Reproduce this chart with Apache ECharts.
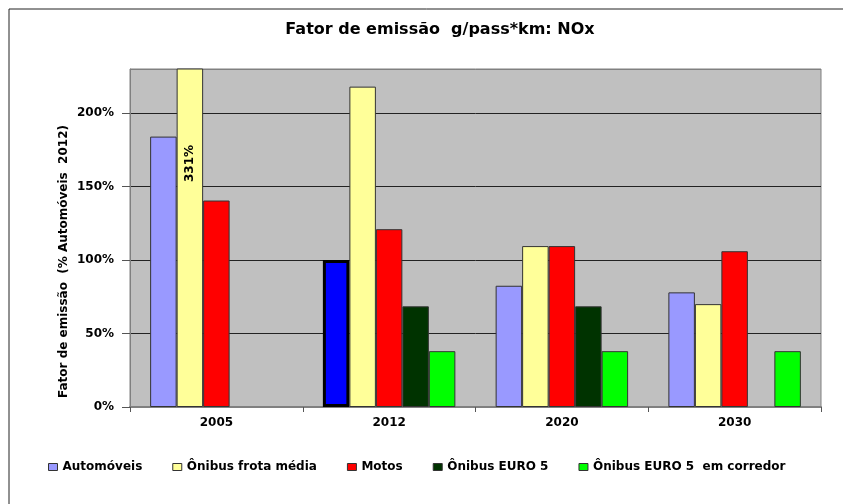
<!DOCTYPE html>
<html>
<head>
<meta charset="utf-8">
<script src="https://cdn.jsdelivr.net/npm/echarts@6/dist/echarts.min.js"></script>
<style>
  html, body { margin: 0; padding: 0; background: #fff; }
  #main { width: 843px; height: 504px; }
</style>
</head>
<body>
<div id="main"></div>
<script>
// categorias (anos) e séries, valores em % de Automóveis 2012
var years = ["2005", "2012", "2020", "2030"];
var automoveis = [184, 100, 82.5, 78];
var onibusFrota = [331, 218, 109.5, 70];
var motos = [140.5, 121, 109.5, 106];
var onibusEuro5 = ["-", 68.5, 68.5, "-"];
var onibusCorredor = ["-", 38, 38, 38];
var yTicks = [0, 50, 100, 150, 200];

var font = "DejaVu Sans";
var chart = echarts.init(document.getElementById("main"));

function barStyle(color) {
  return { color: color, borderColor: "#333", borderWidth: 1 };
}

var option = {
  animation: false,
  textStyle: { fontFamily: font },
  title: {
    text: "Fator de emissão  g/pass*km: NOx",
    left: 435,
    top: 17,
    textAlign: "center",
    textStyle: { fontFamily: font, fontSize: 16, fontWeight: "bold", color: "#000" },
  },
  graphic: [
    {
      type: "rect",
      shape: { x: 9, y: 9, width: 900, height: 600 },
      style: { fill: "none", stroke: "#222", lineWidth: 1 },
      silent: true,
    },
    {
      type: "text",
      x: 63.5,
      y: 261.5,
      rotation: Math.PI / 2,
      style: {
        text: "Fator de emissão  (% Automóveis  2012)",
        font: "bold 12px '" + font + "'",
        fill: "#000",
        align: "center",
        verticalAlign: "middle",
      },
    },
  ],
  legend: {
    left: 43,
    top: 456,
    itemWidth: 9,
    itemHeight: 7,
    itemGap: 30,
    icon: "rect",
    itemStyle: { borderColor: "#333", borderWidth: 1 },
    textStyle: { fontFamily: font, fontSize: 12, fontWeight: "bold", color: "#000" },
  },
  grid: {
    left: 130,
    right: 22,
    top: 69,
    bottom: 97,
    show: true,
    backgroundColor: "#C0C0C0",
    borderColor: "#808080",
    borderWidth: 1,
  },
  xAxis: {
    type: "category",
    data: years,
    axisLine: { lineStyle: { color: "#808080", width: 2 } },
    axisTick: { show: true, length: 5, lineStyle: { color: "#555" } },
    axisLabel: {
      margin: 10,
      fontFamily: font,
      fontSize: 12,
      fontWeight: "bold",
      color: "#000",
    },
  },
  yAxis: {
    type: "value",
    min: 0,
    max: 230,
    interval: 50,
    axisLine: { show: true, lineStyle: { color: "#808080" } },
    axisTick: { show: true, length: 8, lineStyle: { color: "#555" } },
    axisLabel: {
      showMaxLabel: false,
      margin: 16,
      fontFamily: font,
      fontSize: 12,
      fontWeight: "bold",
      color: "#000",
      formatter: function (v) {
        return yTicks.indexOf(v) >= 0 ? v + "%" : "";
      },
    },
    splitLine: {
      show: true,
      lineStyle: { color: ["#808080", "#222", "#222", "#222", "#222", "#808080"] },
    },
  },
  series: [
    {
      name: "Automóveis",
      type: "bar",
      data: automoveis.map(function (v, i) {
        if (years[i] === "2012") {
          return { value: v, itemStyle: { color: "#0000FF", borderColor: "#000", borderWidth: 3 } };
        }
        return v;
      }),
      barGap: "0%",
      barCategoryGap: "23.3%",
      itemStyle: barStyle("#9999FF"),
    },
    {
      name: "Ônibus frota média",
      type: "bar",
      data: onibusFrota.map(function (v, i) {
        if (v > 230) {
          return {
            value: v,
            label: {
              show: true,
              formatter: v + "%",
              rotate: 90,
              position: ["50%", 95],
              align: "center",
              verticalAlign: "middle",
              fontFamily: font,
              fontSize: 12,
              fontWeight: "bold",
              color: "#000",
            },
          };
        }
        return v;
      }),
      itemStyle: barStyle("#FFFF99"),
    },
    {
      name: "Motos",
      type: "bar",
      data: motos,
      itemStyle: barStyle("#FF0000"),
    },
    {
      name: "Ônibus EURO 5",
      type: "bar",
      data: onibusEuro5,
      itemStyle: barStyle("#003300"),
    },
    {
      name: "Ônibus EURO 5  em corredor",
      type: "bar",
      data: onibusCorredor,
      itemStyle: barStyle("#00FF00"),
    },
  ],
};

chart.setOption(option);
</script>
</body>
</html>
